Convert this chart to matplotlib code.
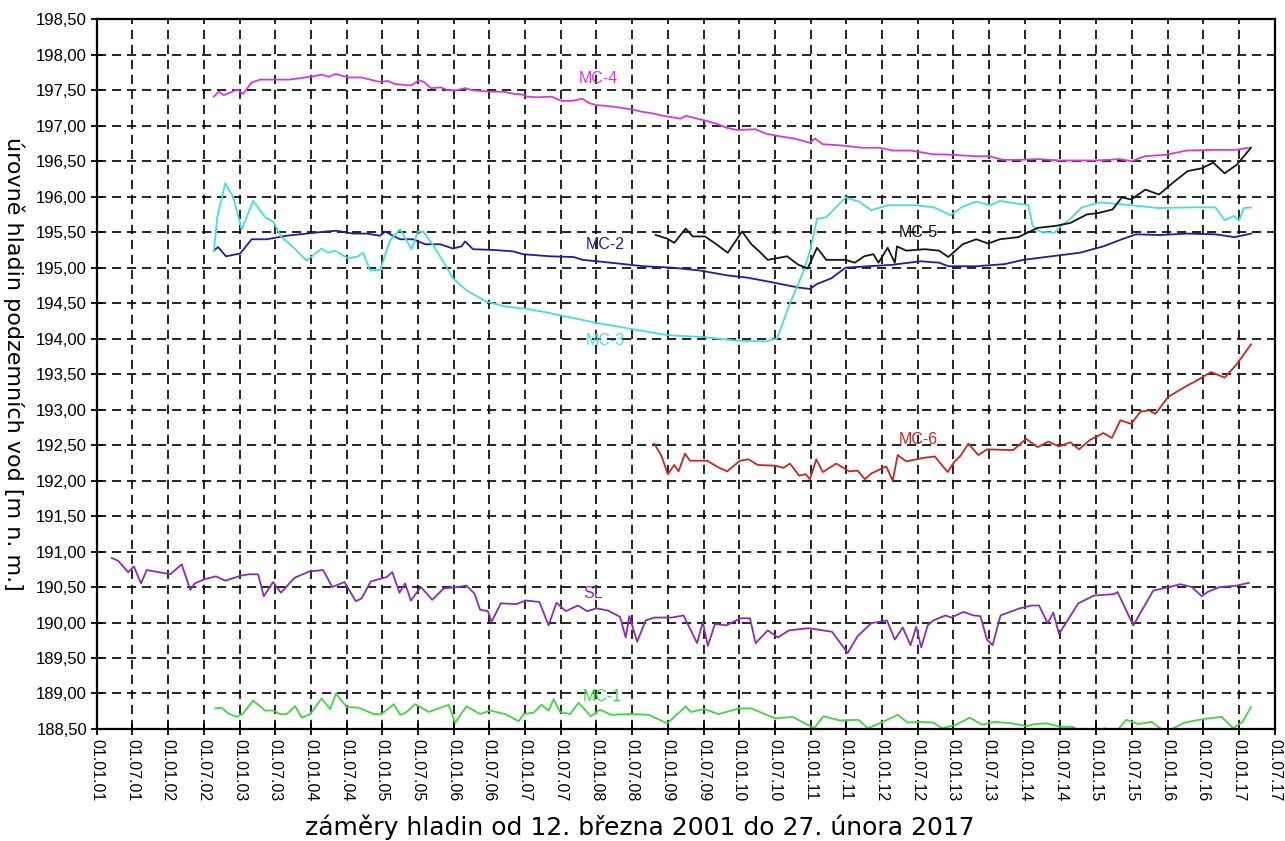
import numpy as np
import matplotlib.pyplot as plt

plt.rcParams['font.family'] = ['Liberation Sans', 'DejaVu Sans']

# -----------------------------
# Data (decimal year, m n. m.)
# -----------------------------
mc4_t = [2002.64, 2002.71, 2002.78, 2002.97, 2003.05, 2003.17, 2003.29, 2003.70, 2003.99, 2004.16,
         2004.25, 2004.35, 2004.52, 2004.71, 2004.95, 2005.08, 2005.17, 2005.34, 2005.41, 2005.51,
         2005.58, 2005.68, 2005.82, 2005.92, 2006.04, 2006.16, 2006.26, 2006.50, 2006.69, 2006.84,
         2006.96, 2007.03, 2007.17, 2007.37, 2007.51, 2007.66, 2007.80, 2007.90, 2007.99, 2008.14,
         2008.23, 2008.50, 2008.62, 2008.81, 2008.93, 2009.18, 2009.25, 2009.49, 2009.68, 2009.83,
         2009.97, 2010.23, 2010.37, 2010.57, 2010.77, 2010.99, 2011.06, 2011.17, 2011.46, 2011.71,
         2011.96, 2012.16, 2012.41, 2012.70, 2013.00, 2013.30, 2013.50, 2013.69, 2013.94, 2014.19,
         2014.49, 2014.79, 2014.98, 2015.18, 2015.33, 2015.50, 2015.68, 2015.97, 2016.27, 2016.67,
         2016.96, 2017.14]
mc4_h = [197.41, 197.48, 197.43, 197.51, 197.45, 197.61, 197.65, 197.65, 197.69, 197.72,
         197.69, 197.73, 197.68, 197.68, 197.62, 197.63, 197.59, 197.57, 197.57, 197.64,
         197.62, 197.53, 197.54, 197.50, 197.50, 197.53, 197.50, 197.48, 197.48, 197.45,
         197.44, 197.41, 197.40, 197.41, 197.35, 197.35, 197.38, 197.32, 197.29, 197.28,
         197.27, 197.23, 197.20, 197.17, 197.14, 197.10, 197.14, 197.08, 197.03, 196.97,
         196.94, 196.95, 196.89, 196.85, 196.82, 196.76, 196.82, 196.74, 196.72, 196.69,
         196.69, 196.65, 196.65, 196.60, 196.59, 196.57, 196.57, 196.52, 196.52, 196.53,
         196.51, 196.51, 196.51, 196.52, 196.53, 196.50, 196.57, 196.59, 196.65, 196.66,
         196.66, 196.69]

mc2_t = [2002.64, 2002.70, 2002.81, 2003.01, 2003.17, 2003.38, 2003.66, 2003.94, 2004.22, 2004.36,
         2004.59, 2004.78, 2004.97, 2005.04, 2005.15, 2005.25, 2005.43, 2005.60, 2005.81, 2005.99,
         2006.11, 2006.16, 2006.27, 2006.55, 2006.83, 2006.97, 2007.35, 2007.68, 2007.81, 2008.20,
         2008.66, 2009.06, 2009.45, 2009.84, 2010.11, 2010.43, 2010.83, 2010.99, 2011.09, 2011.29,
         2011.49, 2011.81, 2012.14, 2012.54, 2012.80, 2012.93, 2013.32, 2013.72, 2013.98, 2014.37,
         2014.77, 2015.10, 2015.36, 2015.56, 2015.89, 2016.28, 2016.67, 2016.94, 2017.17]
mc2_h = [195.24, 195.29, 195.16, 195.20, 195.40, 195.40, 195.45, 195.48, 195.51, 195.52,
         195.48, 195.48, 195.45, 195.51, 195.45, 195.40, 195.40, 195.33, 195.33, 195.27,
         195.30, 195.37, 195.26, 195.25, 195.23, 195.19, 195.16, 195.15, 195.11, 195.07,
         195.02, 195.00, 194.96, 194.89, 194.86, 194.80, 194.72, 194.70, 194.77, 194.85,
         195.00, 195.02, 195.04, 195.09, 195.07, 195.02, 195.02, 195.05, 195.11, 195.16,
         195.21, 195.30, 195.40, 195.47, 195.46, 195.48, 195.47, 195.43, 195.48]

mc3_t = [2002.64, 2002.69, 2002.80, 2002.91, 2003.03, 2003.19, 2003.36, 2003.47, 2003.59, 2003.75,
         2003.94, 2004.15, 2004.24, 2004.34, 2004.52, 2004.66, 2004.73, 2004.83, 2004.97, 2005.11,
         2005.25, 2005.41, 2005.50, 2005.57, 2005.71, 2005.85, 2005.99, 2006.18, 2006.46, 2006.74,
         2007.02, 2007.30, 2007.58, 2008.01, 2008.47, 2008.99, 2009.52, 2009.97, 2010.37, 2010.53,
         2010.70, 2010.90, 2010.99, 2011.09, 2011.22, 2011.49, 2011.68, 2011.85, 2012.08, 2012.47,
         2012.73, 2012.96, 2013.13, 2013.32, 2013.52, 2013.65, 2014.05, 2014.11, 2014.21, 2014.41,
         2014.51, 2014.64, 2014.80, 2015.06, 2015.49, 2015.88, 2016.34, 2016.67, 2016.80, 2016.93,
         2017.00, 2017.07, 2017.17]
mc3_h = [195.23, 195.72, 196.19, 196.00, 195.54, 195.94, 195.71, 195.65, 195.43, 195.29,
         195.10, 195.27, 195.21, 195.24, 195.13, 195.16, 195.21, 194.96, 194.97, 195.39,
         195.54, 195.26, 195.51, 195.51, 195.32, 195.09, 194.85, 194.68, 194.52, 194.45,
         194.42, 194.37, 194.31, 194.22, 194.14, 194.05, 194.02, 193.97, 193.96, 194.00,
         194.47, 194.95, 195.23, 195.69, 195.71, 195.99, 195.93, 195.81, 195.88, 195.88,
         195.85, 195.74, 195.86, 195.93, 195.88, 195.94, 195.88, 195.59, 195.51, 195.49,
         195.59, 195.69, 195.85, 195.92, 195.88, 195.84, 195.85, 195.85, 195.67, 195.73,
         195.66, 195.84, 195.85]

mc5_t = [2008.83, 2008.99, 2009.09, 2009.25, 2009.35, 2009.52, 2009.68, 2009.84, 2010.04, 2010.17,
         2010.27, 2010.40, 2010.67, 2010.83, 2010.96, 2011.09, 2011.22, 2011.49, 2011.62, 2011.75,
         2011.88, 2011.95, 2012.08, 2012.18, 2012.21, 2012.34, 2012.60, 2012.80, 2012.93, 2013.13,
         2013.32, 2013.49, 2013.65, 2013.91, 2014.18, 2014.44, 2014.64, 2014.87, 2015.03, 2015.23,
         2015.36, 2015.49, 2015.69, 2015.88, 2016.08, 2016.28, 2016.48, 2016.64, 2016.80, 2016.97,
         2017.17]
mc5_h = [195.46, 195.41, 195.35, 195.55, 195.44, 195.44, 195.33, 195.21, 195.51, 195.33,
         195.24, 195.11, 195.16, 195.04, 194.99, 195.28, 195.11, 195.11, 195.07, 195.16,
         195.19, 195.07, 195.28, 195.07, 195.30, 195.24, 195.26, 195.24, 195.15, 195.33,
         195.40, 195.34, 195.40, 195.43, 195.56, 195.59, 195.63, 195.75, 195.77, 195.82,
         195.99, 195.96, 196.10, 196.03, 196.20, 196.36, 196.40, 196.48, 196.33, 196.45,
         196.69]

mc6_t = [2008.81, 2008.91, 2009.00, 2009.09, 2009.15, 2009.24, 2009.31, 2009.55, 2009.70, 2009.83,
         2010.01, 2010.13, 2010.26, 2010.50, 2010.62, 2010.71, 2010.84, 2010.93, 2010.99, 2011.08,
         2011.17, 2011.36, 2011.54, 2011.66, 2011.76, 2011.85, 2012.06, 2012.15, 2012.22, 2012.34,
         2012.58, 2012.74, 2012.92, 2013.01, 2013.10, 2013.21, 2013.35, 2013.47, 2013.84, 2014.02,
         2014.18, 2014.33, 2014.48, 2014.64, 2014.76, 2014.91, 2015.10, 2015.22, 2015.34, 2015.49,
         2015.62, 2015.74, 2015.83, 2016.01, 2016.26, 2016.41, 2016.61, 2016.80, 2016.97, 2017.17]
mc6_h = [192.52, 192.35, 192.09, 192.22, 192.13, 192.38, 192.28, 192.28, 192.19, 192.13,
         192.28, 192.30, 192.22, 192.21, 192.18, 192.24, 192.07, 192.09, 192.02, 192.30,
         192.12, 192.24, 192.13, 192.14, 192.02, 192.10, 192.20, 192.00, 192.36, 192.27,
         192.32, 192.34, 192.12, 192.26, 192.35, 192.52, 192.36, 192.44, 192.43, 192.59,
         192.47, 192.55, 192.48, 192.54, 192.44, 192.57, 192.67, 192.60, 192.85, 192.80,
         192.97, 192.99, 192.94, 193.18, 193.33, 193.41, 193.53, 193.45, 193.64, 193.92]

sl_t = [2001.21, 2001.30, 2001.44, 2001.52, 2001.62, 2001.70, 2002.03, 2002.19, 2002.31, 2002.37,
        2002.51, 2002.67, 2002.80, 2003.02, 2003.13, 2003.26, 2003.34, 2003.47, 2003.58, 2003.77,
        2003.98, 2004.17, 2004.30, 2004.47, 2004.63, 2004.71, 2004.84, 2005.06, 2005.14, 2005.24,
        2005.32, 2005.40, 2005.54, 2005.70, 2005.86, 2006.05, 2006.18, 2006.29, 2006.37, 2006.48,
        2006.53, 2006.66, 2006.88, 2007.01, 2007.20, 2007.33, 2007.44, 2007.57, 2007.74, 2007.87,
        2008.00, 2008.16, 2008.33, 2008.41, 2008.46, 2008.57, 2008.69, 2008.81, 2009.06, 2009.22,
        2009.41, 2009.49, 2009.56, 2009.66, 2009.82, 2010.02, 2010.15, 2010.23, 2010.40, 2010.54,
        2010.70, 2010.97, 2011.30, 2011.52, 2011.66, 2011.85, 2012.07, 2012.18, 2012.29, 2012.40,
        2012.48, 2012.55, 2012.64, 2012.72, 2012.89, 2012.97, 2013.14, 2013.28, 2013.38, 2013.47,
        2013.55, 2013.66, 2013.93, 2014.10, 2014.20, 2014.32, 2014.40, 2014.48, 2014.75, 2014.97,
        2015.25, 2015.30, 2015.52, 2015.80, 2016.02, 2016.18, 2016.34, 2016.48, 2016.56, 2016.73,
        2016.97, 2017.14]
sl_h = [190.91, 190.87, 190.71, 190.79, 190.55, 190.74, 190.68, 190.82, 190.46, 190.55,
        190.61, 190.65, 190.59, 190.66, 190.68, 190.68, 190.37, 190.57, 190.42, 190.63,
        190.72, 190.74, 190.50, 190.57, 190.30, 190.34, 190.58, 190.64, 190.71, 190.42,
        190.55, 190.31, 190.50, 190.32, 190.48, 190.50, 190.52, 190.41, 190.18, 190.16,
        190.01, 190.27, 190.26, 190.31, 190.29, 189.96, 190.28, 190.16, 190.24, 190.16,
        190.20, 190.17, 190.08, 189.79, 190.09, 189.73, 190.03, 190.07, 190.07, 190.10,
        189.71, 190.01, 189.67, 189.98, 189.96, 190.06, 190.06, 189.71, 189.89, 189.79,
        189.89, 189.92, 189.87, 189.57, 189.81, 189.99, 190.03, 189.76, 189.93, 189.68,
        189.94, 189.65, 189.96, 190.03, 190.10, 190.07, 190.15, 190.10, 190.09, 189.76,
        189.68, 190.10, 190.20, 190.24, 190.24, 189.99, 190.14, 189.84, 190.27, 190.38,
        190.40, 190.43, 189.96, 190.45, 190.50, 190.54, 190.50, 190.37, 190.43, 190.50,
        190.52, 190.56]

mc1_t = [2002.66, 2002.75, 2002.84, 2002.96, 2003.05, 2003.19, 2003.36, 2003.47, 2003.57, 2003.66,
         2003.78, 2003.87, 2003.99, 2004.15, 2004.27, 2004.35, 2004.50, 2004.67, 2004.88, 2004.99,
         2005.16, 2005.25, 2005.33, 2005.46, 2005.65, 2005.93, 2006.02, 2006.18, 2006.37, 2006.51,
         2006.72, 2006.91, 2006.98, 2007.12, 2007.23, 2007.33, 2007.40, 2007.49, 2007.63, 2007.75,
         2007.92, 2008.05, 2008.21, 2008.47, 2008.73, 2008.99, 2009.09, 2009.25, 2009.32, 2009.51,
         2009.71, 2010.00, 2010.17, 2010.50, 2010.75, 2011.05, 2011.18, 2011.41, 2011.67, 2011.80,
         2011.99, 2012.22, 2012.36, 2012.52, 2012.72, 2012.84, 2013.04, 2013.23, 2013.40, 2013.59,
         2013.82, 2014.02, 2014.15, 2014.31, 2014.50, 2014.67, 2014.80, 2014.97, 2015.13, 2015.27,
         2015.42, 2015.59, 2015.78, 2015.91, 2016.04, 2016.24, 2016.50, 2016.76, 2016.92, 2017.05,
         2017.17]
mc1_h = [188.79, 188.80, 188.72, 188.67, 188.72, 188.90, 188.76, 188.76, 188.71, 188.71,
         188.82, 188.66, 188.71, 188.93, 188.78, 189.00, 188.81, 188.80, 188.71, 188.71,
         188.85, 188.70, 188.73, 188.85, 188.74, 188.84, 188.59, 188.82, 188.71, 188.76,
         188.71, 188.61, 188.71, 188.73, 188.84, 188.76, 188.92, 188.74, 188.71, 188.87,
         188.68, 188.77, 188.70, 188.71, 188.70, 188.58, 188.67, 188.82, 188.74, 188.78,
         188.71, 188.79, 188.79, 188.65, 188.67, 188.51, 188.68, 188.62, 188.63, 188.51,
         188.59, 188.70, 188.59, 188.60, 188.59, 188.51, 188.56, 188.66, 188.56, 188.60,
         188.58, 188.54, 188.57, 188.58, 188.53, 188.53, 188.46, 188.48, 188.51, 188.45,
         188.63, 188.57, 188.60, 188.50, 188.49, 188.59, 188.64, 188.67, 188.51, 188.60,
         188.81]

# axis ticks
x_ticks = np.arange(2001.0, 2017.51, 0.5)
x_tick_labels = [("01.01." if t % 1 == 0 else "01.07.") + f"{int(t) % 100:02d}" for t in x_ticks]
y_ticks = np.arange(188.5, 198.51, 0.5)
y_tick_labels = [f"{v:.2f}".replace(".", ",") for v in y_ticks]

# series: (name, t, h, colour, label pos)
series = [
    ("MC-4", mc4_t, mc4_h, "#d63ad6", (2008.03, 197.67)),
    ("MC-2", mc2_t, mc2_h, "#1e1e9e", (2008.12, 195.32)),
    ("MC-3", mc3_t, mc3_h, "#44dede", (2008.12, 193.97)),
    ("MC-5", mc5_t, mc5_h, "#161616", (2012.51, 195.49)),
    ("MC-6", mc6_t, mc6_h, "#c8281e", (2012.51, 192.58)),
    ("SL", sl_t, sl_h, "#8a2db4", (2007.95, 190.41)),
    ("MC-1", mc1_t, mc1_h, "#44d444", (2008.08, 188.96)),
]

# -----------------------------
# Plot
# -----------------------------
fig = plt.figure(figsize=(12.85, 8.41), dpi=100)
ax = fig.add_axes([0.0753, 0.1332, 0.9166, 0.8439])

for name, t, h, col, (lx, ly) in series:
    ax.plot(t, h, color=col, lw=1.3)
    ax.text(lx, ly, name, color=col, fontsize=11.5, ha="center", va="center")

ax.set_xlim(2001.0, 2017.5)
ax.set_ylim(188.5, 198.5)
ax.set_xticks(x_ticks)
ax.set_xticklabels(x_tick_labels, rotation=270, fontsize=11.5)
ax.set_yticks(y_ticks)
ax.set_yticklabels(y_tick_labels, fontsize=12)

ax.set_axisbelow(True)
ax.grid(True, color="black", linestyle=(0, (5.5, 3.5)), linewidth=1.2)
ax.tick_params(direction="inout", length=8, width=1.3, pad=3)
for sp in ax.spines.values():
    sp.set_linewidth(1.6)

ax.set_ylabel("úrovně hladin podzemních vod [m n. m.]", rotation=270,
              fontsize=16, va="center", family=["DejaVu Sans"])
ax.yaxis.set_label_coords(-0.0705, 0.514)
fig.text(640 / 1285, 1 - 827 / 841, "záměry hladin od 12. března 2001 do 27. února 2017",
         ha="center", va="center", fontsize=18, family=["DejaVu Sans"])

plt.savefig("out.png", dpi=100)
